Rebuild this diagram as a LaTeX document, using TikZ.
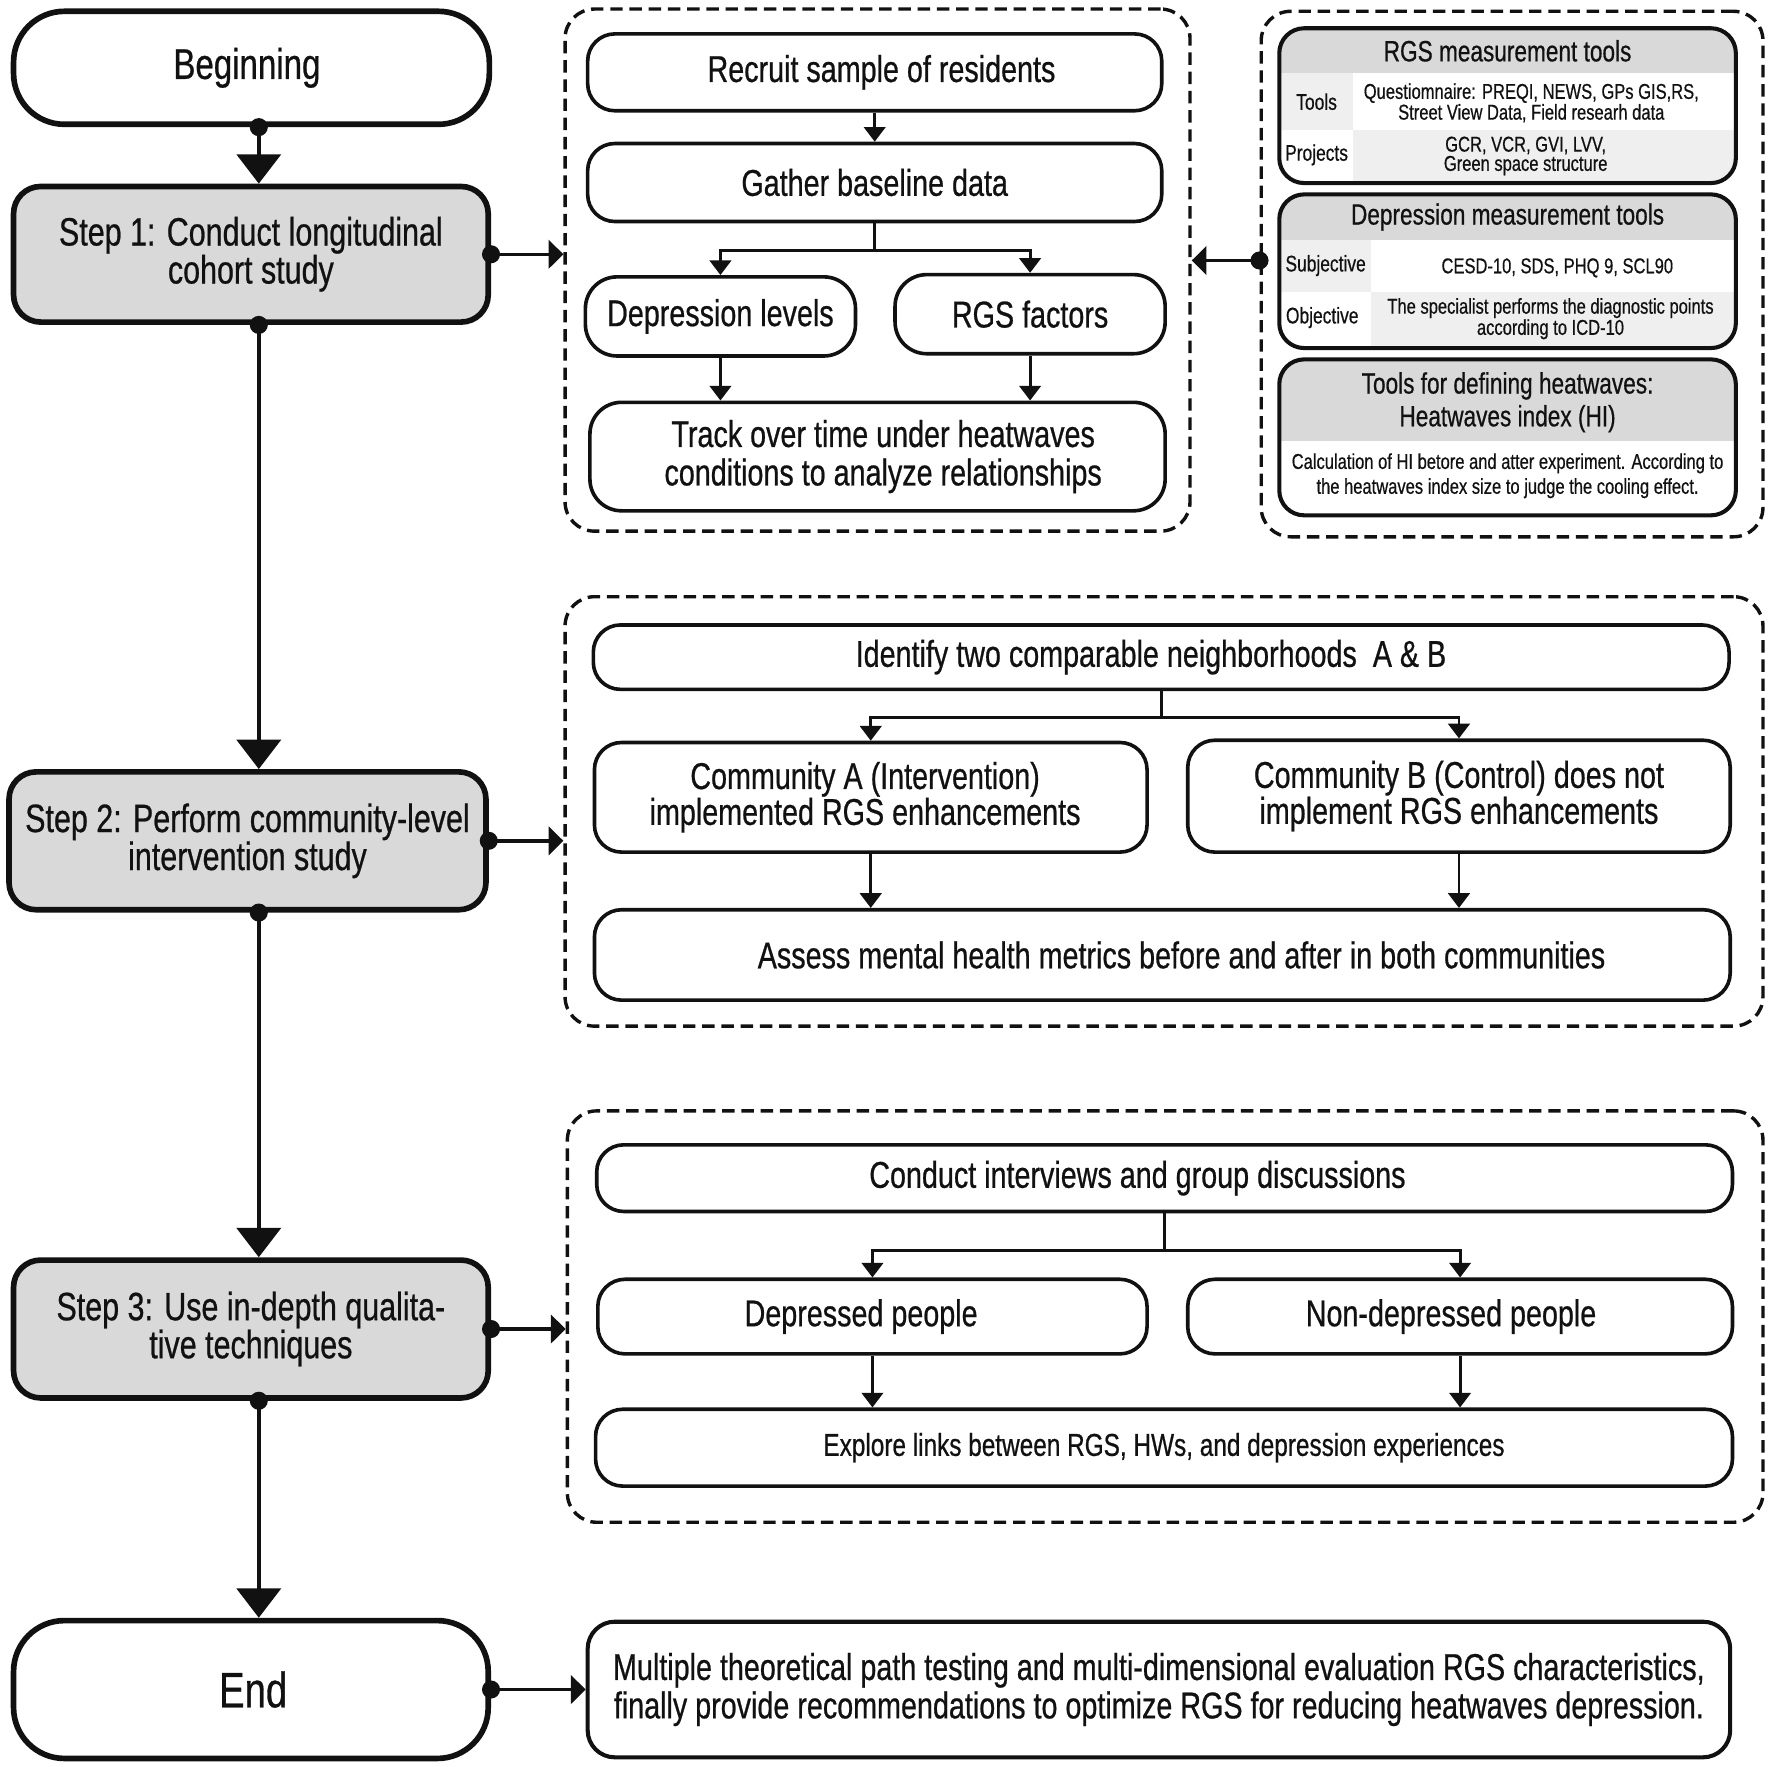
\documentclass[tikz,border=0pt]{standalone}
\usepackage{fontspec}
\setmainfont[FakeStretch=0.77,FakeBold=0.6]{Liberation Sans}
\setsansfont[FakeStretch=0.77,FakeBold=0.6]{Liberation Sans}
\usetikzlibrary{arrows.meta,calc}
\definecolor{stepgray}{HTML}{D9D9D9}
\definecolor{rowgray}{HTML}{EFEFEF}
\definecolor{ink}{HTML}{111111}
\newcommand{\fsz}[2]{\fontsize{#1}{#2}\selectfont}
\begin{document}
\begin{tikzpicture}[x=1pt,y=-1pt,
  every node/.style={text=ink},
  termbox/.style={draw=ink, line width=5pt, rounded corners=45pt, align=center, inner sep=0pt, fill=white},
  greybox/.style={draw=ink, line width=5pt, rounded corners=24pt, align=center, inner sep=0pt, fill=stepgray, font=\fsz{35}{32}},
  innerbox/.style={draw=ink, line width=3.2pt, rounded corners=24pt, align=center, inner sep=0pt, fill=white, font=\fsz{33}{34}},
  panel/.style={draw=ink, dash pattern=on 11pt off 6pt, line width=3pt, rounded corners=26pt, inner sep=0pt},
  tablebox/.style={draw=ink, line width=3.6pt, rounded corners=22pt},
  bigarrow/.style={draw=ink, line width=3.4pt, -{Triangle[width=39pt,length=26pt]}},
  sidearrow/.style={draw=ink, line width=3pt, -{Triangle[width=25pt,length=13pt]}},
  smallarrow/.style={draw=ink, line width=2.6pt, -{Triangle[width=19pt,length=13pt]}},
  plainline/.style={draw=ink, line width=2.6pt},
  dotc/.style={fill=ink},
  hdr/.style={font=\fsz{26}{29}, align=center, inner sep=0pt},
  lbl/.style={font=\fsz{20}{20}, align=center, inner sep=0pt},
  cell/.style={font=\fsz{19}{17}, align=center, inner sep=0pt},
]
\useasboundingbox (0,0) rectangle (1568,1563);

% ---------------- left column ----------------
\coordinate (col) at (229,0);
\node[termbox, minimum width=421pt, minimum height=100pt, font=\fsz{38}{40}] (beg) at (222.5,60) {\hspace*{-8pt}Beginning};
\node[greybox, minimum width=420pt, minimum height=120pt] (s1) at (222,225) {\raisebox{3pt}{Step 1: Conduct longitudinal}\\\raisebox{3pt}{cohort study}};
\node[greybox, minimum width=422pt, minimum height=122pt] (s2) at (219,744) {Step 2: Perform community-level\\intervention study};
\node[greybox, minimum width=420pt, minimum height=122pt] (s3) at (222,1176) {Step 3: Use in-depth qualita-\\tive techniques};
\node[termbox, minimum width=420pt, minimum height=122pt, font=\fsz{44}{46}] (end) at (222,1495) {\hspace*{4pt}End};

\draw[bigarrow] (beg.south -| col) -- (s1.north -| col);
\draw[bigarrow] (s1.south -| col) -- (s2.north -| col);
\draw[bigarrow] (s2.south -| col) -- (s3.north -| col);
\draw[bigarrow] (s3.south -| col) -- (end.north -| col);
\foreach \n in {beg,s1,s2,s3}{\fill[dotc] (\n.south -| col) circle (8pt);}

% ---------------- panel 1 ----------------
\node[panel, minimum width=553pt, minimum height=462pt] (p1) at (776.5,239) {};
\node[innerbox, minimum width=508pt, minimum height=68pt] (rec) at (774,64) {\hspace*{12pt}Recruit sample of residents};
\node[innerbox, minimum width=508pt, minimum height=69pt] (gat) at (774,161.5) {Gather baseline data};
\node[innerbox, minimum width=239pt, minimum height=70pt, rounded corners=28pt] (dep) at (637.5,280) {Depression levels};
\node[innerbox, minimum width=239pt, minimum height=70pt, rounded corners=28pt] (rgs) at (911.5,278) {RGS factors};
\node[innerbox, minimum width=509pt, minimum height=96pt, rounded corners=28pt] (trk) at (776.5,404) {\hspace*{10pt}Track over time under heatwaves\\\hspace*{10pt}conditions to analyze relationships};

\draw[smallarrow] (rec.south) -- (gat.north);
\draw[plainline] (gat.south) -- ++(0,24) coordinate (b1);
\draw[smallarrow] (b1) -| (dep.north);
\draw[smallarrow] (b1) -| (rgs.north);
\draw[smallarrow] (dep.south) -- (dep.south |- trk.north);
\draw[smallarrow] (rgs.south) -- (rgs.south |- trk.north);

\draw[sidearrow] (s1.east) -- (s1.east -| p1.west);
\fill[dotc] (s1.east) circle (8pt);

% ---------------- panel 2 (tables) ----------------
\node[panel, minimum width=444pt, minimum height=465pt] (p2) at (1338,242.5) {};

\begin{scope}
  \clip[rounded corners=22pt] (1132,25) rectangle (1536,162);
  \fill[stepgray] (1132,25) rectangle (1536,65);
  \fill[rowgray] (1132,65) rectangle (1197,115);
  \fill[rowgray] (1197,115) rectangle (1536,162);
\end{scope}
\draw[tablebox] (1132,25) rectangle (1536,162);
\node[hdr] (t1h) at (1334,45) {RGS measurement tools};
\node[lbl] (t1a) at (1165,90) {Tools};
\node[cell] (t1b) at (1355,91) {Questiomnaire: PREQI, NEWS, GPs GIS,RS,\\Street View Data, Field researh data};
\node[lbl] (t1c) at (1165,137) {Projects};
\node[cell] (t1d) at (1350,138) {GCR, VCR, GVI, LVV,\\Green space structure};

\begin{scope}
  \clip[rounded corners=22pt] (1132,172) rectangle (1536,308);
  \fill[stepgray] (1132,172) rectangle (1536,212);
  \fill[rowgray] (1132,212) rectangle (1213,258);
  \fill[rowgray] (1213,258) rectangle (1536,308);
\end{scope}
\draw[tablebox] (1132,172) rectangle (1536,308);
\node[hdr] (t2h) at (1334,192) {Depression measurement tools};
\node[lbl] (t2a) at (1173,235) {Subjective};
\node[cell] (t2b) at (1378,237) {CESD-10, SDS, PHQ 9, SCL90};
\node[lbl] (t2c) at (1170,281) {Objective};
\node[cell] (t2d) at (1372,282) {The specialist performs the diagnostic points\\according to ICD-10};

\begin{scope}
  \clip[rounded corners=22pt] (1132,318) rectangle (1536,456);
  \fill[stepgray] (1132,318) rectangle (1536,390);
\end{scope}
\draw[tablebox] (1132,318) rectangle (1536,456);
\node[hdr] (t3h) at (1334,356) {Tools for defining heatwaves:\\Heatwaves index (HI)};
\node[cell, font=\fsz{19}{22}] (t3b) at (1334,421) {Calculation of HI betore and atter experiment. According to\\the heatwaves index size to judge the cooling effect.};

\coordinate (lnk) at ($(p2.west)+(0,-12)$);
\draw[sidearrow] (lnk) -- (lnk -| p1.east);
\fill[dotc] (lnk) circle (8pt);

% ---------------- panel 3 ----------------
\node[panel, minimum width=1060pt, minimum height=380pt] (p3) at (1030,718) {};
\node[innerbox, minimum width=1005pt, minimum height=57pt] (idt) at (1027.5,581.5) {\hspace*{-18pt}Identify two comparable neighborhoods\ \ A \& B};
\node[innerbox, minimum width=489pt, minimum height=97pt, font=\fsz{33}{28}] (cma) at (770.5,705.5) {\hspace*{-10pt}Community A (Intervention)\\\hspace*{-10pt}implemented RGS enhancements};
\node[innerbox, minimum width=480pt, minimum height=99pt, font=\fsz{33}{28}] (cmb) at (1291,704.5) {Community B (Control) does not\\implement RGS enhancements};
\node[innerbox, minimum width=1005pt, minimum height=80pt] (asm) at (1028.5,845) {\hspace*{34pt}Assess mental health metrics before and after in both communities};

\draw[plainline] (idt.south) -- ++(0,23) coordinate (b2);
\draw[smallarrow] (b2) -| (cma.north);
\draw[smallarrow] (b2) -| (cmb.north);
\draw[smallarrow] (cma.south) -- (cma.south |- asm.north);
\draw[smallarrow] (cmb.south) -- (cmb.south |- asm.north);

\draw[sidearrow] (s2.east) -- (s2.east -| p3.west);
\fill[dotc] (s2.east) circle (8pt);

% ---------------- panel 4 ----------------
\node[panel, minimum width=1058pt, minimum height=364pt] (p4) at (1031,1165) {};
\node[innerbox, minimum width=1005pt, minimum height=59pt] (cdi) at (1030.5,1042.5) {\hspace*{-48pt}Conduct interviews and group discussions};
\node[innerbox, minimum width=486pt, minimum height=66pt] (dpp) at (772,1165) {\hspace*{-20pt}Depressed people};
\node[innerbox, minimum width=482pt, minimum height=66pt] (ndp) at (1292,1165) {\hspace*{-16pt}Non-depressed people};
\node[innerbox, minimum width=1006pt, minimum height=68pt, font=\fsz{28}{30}] (exl) at (1030,1281) {Explore links between RGS, HWs, and depression experiences};

\draw[plainline] (cdi.south) -- ++(0,33) coordinate (b3);
\draw[smallarrow] (b3) -| (dpp.north);
\draw[smallarrow] (b3) -| (ndp.north);
\draw[smallarrow] (dpp.south) -- (dpp.south |- exl.north);
\draw[smallarrow] (ndp.south) -- (ndp.south |- exl.north);

\draw[sidearrow] (s3.east) -- (s3.east -| p4.west);
\fill[dotc] (s3.east) circle (8pt);

% ---------------- final ----------------
\node[innerbox, minimum width=1011pt, minimum height=120pt, line width=3.6pt, font=\fsz{33}{34}] (fin) at (1025.5,1495) {Multiple theoretical path testing and multi-dimensional evaluation RGS characteristics,\\finally provide recommendations to optimize RGS for reducing heatwaves depression.};
\draw[sidearrow] (end.east) -- (end.east -| fin.west);
\fill[dotc] (end.east) circle (8pt);

\end{tikzpicture}
\end{document}
